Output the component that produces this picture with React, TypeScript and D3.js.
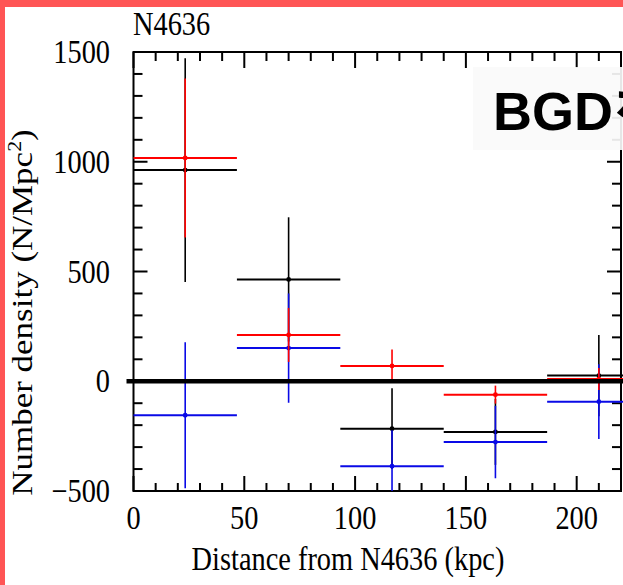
import React from "react";
import * as d3 from "d3";

const binLo = [0, 46.67, 93.33, 140, 186.67];
const binHi = [46.67, 93.33, 140, 186.67, 233.33];
const binCenter = [23.33, 70, 116.67, 163.33, 210];

const blackVals = [962, 464, -216, -231, 26];
const blackErrs = [510, 283, 184, 150, 185];
const redVals = [1017, 211, 70, -61, 10];
const redErrs = [362, 123, 75, 41, 50];
const blueVals = [-155, 151, -387, -277, -93];
const blueErrs = [333, 249, 164, 165, 170];

const xMajor = [0, 50, 100, 150, 200];
const xMinor = d3.range(10, 220, 10).filter((v) => v % 50 !== 0);
const yMajor = [-500, 0, 500, 1000, 1500];
const yMinor = d3.range(-400, 1500, 100).filter((v) => v % 500 !== 0);

const titleText = "N4636";
const xTitle = "Distance from N4636 (kpc)";
const yTitleMain = "Number density (N/Mpc";
const yTitleSup = "2";
const yTitleEnd = ")";
const overlayText = "BGDを引いた";

const W = 623;
const H = 585;

export default function App() {
  const xs = d3.scaleLinear().domain([0, 220]).range([133.5, 621]);
  const ys = d3.scaleLinear().domain([-500, 1500]).range([491, 52]);
  const [x0, x1] = xs.range();
  const [y0, y1] = ys.range();
  const serif = "'Liberation Serif', 'Times New Roman', serif";
  const k = 0.86;

  const series = [
    { vals: blackVals, errs: blackErrs, color: "#000000" },
    { vals: blueVals, errs: blueErrs, color: "#0a0ae6" },
    { vals: redVals, errs: redErrs, color: "#ff0000" },
  ];

  return (
    <svg
      width={W}
      height={H}
      style={{ position: "absolute", left: 0, top: 0, background: "#fff" }}
    >
      <defs>
        <clipPath id="plotclip">
          <rect x={0} y={y1} width={W} height={y0 - y1} />
        </clipPath>
      </defs>
      <rect x={0} y={0} width={W} height={H} fill="#fff" />

      {/* frame */}
      <rect x={x0} y={y1} width={x1 - x0} height={y0 - y1} fill="none" stroke="#000" strokeWidth={2} />

      {/* x ticks */}
      {xMajor.map((v) => (
        <g key={"xM" + v}>
          <line x1={xs(v)} x2={xs(v)} y1={y0} y2={y0 - 15} stroke="#000" strokeWidth={2} />
          <line x1={xs(v)} x2={xs(v)} y1={y1} y2={y1 + 16} stroke="#000" strokeWidth={2} />
        </g>
      ))}
      {xMinor.map((v) => (
        <g key={"xm" + v}>
          <line x1={xs(v)} x2={xs(v)} y1={y0} y2={y0 - 8} stroke="#000" strokeWidth={2} />
          <line x1={xs(v)} x2={xs(v)} y1={y1} y2={y1 + 9} stroke="#000" strokeWidth={2} />
        </g>
      ))}
      {/* y ticks */}
      {yMajor.map((v) => (
        <g key={"yM" + v}>
          <line x1={x0} x2={x0 + 14} y1={ys(v)} y2={ys(v)} stroke="#000" strokeWidth={2} />
          <line x1={x1} x2={x1 - 14} y1={ys(v)} y2={ys(v)} stroke="#000" strokeWidth={2} />
        </g>
      ))}
      {yMinor.map((v) => (
        <g key={"ym" + v}>
          <line x1={x0} x2={x0 + 9} y1={ys(v)} y2={ys(v)} stroke="#000" strokeWidth={2} />
          <line x1={x1} x2={x1 - 9} y1={ys(v)} y2={ys(v)} stroke="#000" strokeWidth={2} />
        </g>
      ))}

      {/* tick labels */}
      {xMajor.map((v) => (
        <text
          key={"xl" + v}
          transform={`translate(${xs(v)},529) scale(${k},1)`}
          textAnchor="middle"
          fontFamily={serif}
          fontSize={33}
          fill="#000"
        >
          {String(v)}
        </text>
      ))}
      {yMajor.map((v) => (
        <text
          key={"yl" + v}
          transform={`translate(110,${ys(v)}) scale(${k},1)`}
          textAnchor="end"
          dy="0.34em"
          fontFamily={serif}
          fontSize={33}
          fill="#000"
        >
          {v < 0 ? "\u2212" + Math.abs(v) : String(v)}
        </text>
      ))}

      {/* titles */}
      <text transform={`translate(133,35) scale(${k},1)`} fontFamily={serif} fontSize={33} fill="#000">
        {titleText}
      </text>
      <text
        transform={`translate(${(192 + 504) / 2},570) scale(${k},1)`}
        textAnchor="middle"
        fontFamily={serif}
        fontSize={33}
        fill="#000"
      >
        {xTitle}
      </text>
      <text
        transform={`translate(32,${(130 + 495) / 2}) scale(${k},1) rotate(-90)`}
        textAnchor="middle"
        fontFamily={serif}
        fontSize={35}
        fill="#000"
      >
        {yTitleMain}
        <tspan fontSize={22} dy={-13}>{yTitleSup}</tspan>
        <tspan dy={13}>{yTitleEnd}</tspan>
      </text>

      {/* data */}
      <g clipPath="url(#plotclip)">
        {series.map((s, si) => (
          <g key={"s" + si}>
            {s.vals.map((v, i) => (
              <g key={i}>
                <line
                  x1={xs(binLo[i])}
                  x2={xs(binHi[i])}
                  y1={ys(v)}
                  y2={ys(v)}
                  stroke={s.color}
                  strokeWidth={2}
                />
                <line
                  x1={xs(binCenter[i])}
                  x2={xs(binCenter[i])}
                  y1={ys(v + s.errs[i])}
                  y2={ys(v - s.errs[i])}
                  stroke={s.color}
                  strokeWidth={1.6}
                />
                <circle cx={xs(binCenter[i])} cy={ys(v)} r={2.4} fill={s.color} />
              </g>
            ))}
          </g>
        ))}
        <line x1={xs(0) - 7} x2={W} y1={ys(0)} y2={ys(0)} stroke="#000" strokeWidth={4.5} />
      </g>

      {/* overlay label */}
      <rect x={473} y={67} width={W - 473} height={83} fill="#fafafa" opacity={0.92} />
      <text
        x={493}
        y={130}
        fontFamily="'Liberation Sans', Arial, 'Noto Sans CJK JP', sans-serif"
        fontWeight="bold"
        fontSize={54}
        fill="#000"
      >
        {overlayText}
      </text>

      {/* red border */}
      <rect x={0} y={0} width={5} height={H} fill="#ff5555" />
      <rect x={0} y={0} width={W} height={7} fill="#ff5555" />
    </svg>
  );
}
